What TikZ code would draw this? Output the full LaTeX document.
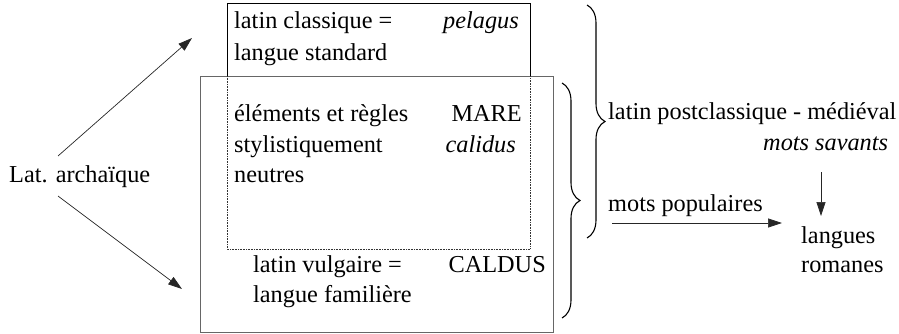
\documentclass[tikz,border=0pt]{standalone}
\usepackage{fontspec}
\setmainfont{Liberation Serif}
\usetikzlibrary{arrows.meta,decorations.pathreplacing}
\begin{document}
\begin{tikzpicture}[x=1pt,y=-1pt,
  txt/.style={inner sep=0pt,anchor=base west,font=\rmfamily\fontsize{24.3}{30}\selectfont},
  rtxt/.style={inner sep=0pt,anchor=base east,font=\rmfamily\fontsize{24.3}{30}\selectfont},
  arr/.style={draw=black!85,line width=0.7pt,-{Triangle[length=14pt,width=9pt]}},
  bigbrace/.style={draw=black,line width=1.1pt,decorate,decoration={brace,amplitude=18pt}}]
\useasboundingbox (0,0) rectangle (899,334);
% boxes
\draw[gray!80!black,line width=0.9pt] (200,76) rectangle (553,332);
\draw[black,line width=0.9pt] (227,76) -- (227,3) -- (530,3) -- (530,76);
\draw[black!80,line width=0.6pt,densely dotted] (227,76) -- (227,249) -- (530,249) -- (530,76);
% texts in boxes
\node[txt] (lc1) at (234,29) {latin classique =};
\node[txt] (lc2) at (234,61) {langue standard};
\node[rtxt] (pel) at (519,29) {\itshape pelagus};
\node[txt] (el1) at (234,122) {éléments et règles};
\node[txt] (el2) at (234,152) {stylistiquement};
\node[txt] (el3) at (234,182) {neutres};
\node[rtxt] (mare) at (522,122) {MARE};
\node[rtxt] (cal) at (516,152) {\itshape calidus};
\node[txt] (lv1) at (253,272) {latin vulgaire =};
\node[txt] (lv2) at (253,302) {langue familière};
\node[rtxt] (caldus) at (546,272) {CALDUS};
% left
\node[txt] (arch) at (9,182) {Lat. archaïque};
\coordinate (a1s) at (58,156);
\coordinate (a1e) at (192,38);
\coordinate (a2s) at (58,196);
\coordinate (a2e) at (182,289);
\draw[arr] (a1s) -- (a1e);
\draw[arr] (a2s) -- (a2e);
% braces
\coordinate (b1t) at (587,5);
\coordinate (b1b) at (587,238);
\coordinate (b2t) at (562,83);
\coordinate (b2b) at (562,318);
\draw[bigbrace] (b1t) -- (b1b);
\draw[bigbrace] (b2t) -- (b2b);
% right
\node[txt] (post) at (608,120) {latin postclassique - médiéval};
\node[txt] (sav) at (763,150) {\itshape mots savants};
\node[txt] (pop) at (608,211) {mots populaires};
\node[txt] (lr1) at (801,243) {langues};
\node[txt] (lr2) at (801,272) {romanes};
\coordinate (d1s) at (821,172);
\coordinate (d1e) at (821,216);
\coordinate (h1s) at (612,223);
\coordinate (h1e) at (782,223);
\draw[arr] (d1s) -- (d1e);
\draw[arr] (h1s) -- (h1e);
\end{tikzpicture}
\end{document}
